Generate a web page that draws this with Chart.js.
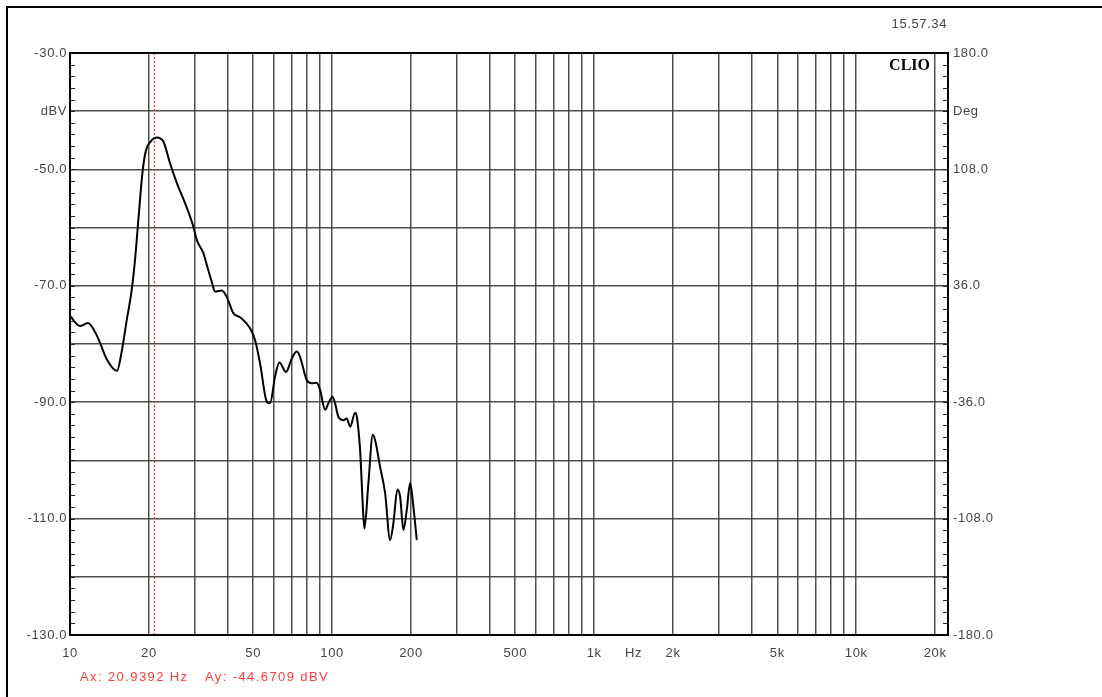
<!DOCTYPE html>
<html>
<head>
<meta charset="utf-8">
<title>CLIO FFT</title>
<script src="https://cdn.jsdelivr.net/npm/chart.js@4.4.1/dist/chart.umd.min.js"></script>
<style>
  html, body { margin: 0; padding: 0; background: #fff; }
  #chart { display: block; }
</style>
</head>
<body>
<canvas id="chart" width="1102" height="697"></canvas>
<script>
const freqHz = [10, 10.92, 11.71, 12.68, 13.84, 15.11, 15.79, 16.46, 17.2, 17.7, 18.23, 18.95, 19.5, 20.5, 20.94, 21.42, 22.71, 24.08, 25.55, 27.48, 29.55, 30.45, 32.28, 33.25, 34.74, 35.76, 37.93, 39.64, 42.02, 44.57, 48.64, 50.82, 53.11, 56.34, 58.0, 60.6, 62.93, 66.75, 70.18, 73.33, 75.48, 80.04, 83.64, 87.4, 90.0, 94.04, 96.8, 100.3, 102.7, 105.7, 110.4, 113.8, 117.2, 122.4, 124.3, 127.9, 131.7, 132.9, 137.6, 143.0, 145.9, 152.5, 159.4, 166.5, 171.4, 177.5, 181.8, 187.2, 192.8, 198.5, 204.3, 210.5];
const levelDbv = [-75.2, -76.9, -76.4, -78.6, -82.7, -84.6, -81.0, -75.9, -70.7, -65.6, -58.7, -50.1, -46.7, -45.0, -44.67, -44.5, -45.2, -48.95, -52.3, -55.8, -59.8, -62.1, -64.4, -66.4, -69.3, -71.0, -70.8, -71.9, -74.7, -75.4, -77.3, -79.3, -83.3, -89.9, -90.2, -85.6, -83.2, -84.8, -82.5, -81.3, -82.2, -86.2, -86.75, -86.65, -87.9, -91.3, -90.2, -89.05, -90.2, -92.5, -93.1, -92.8, -94.2, -91.8, -92.5, -98.2, -109.7, -111.7, -103.9, -95.6, -96.5, -101.1, -105.65, -113.7, -110.8, -105.0, -106.2, -111.96, -108.5, -103.9, -107.95, -113.7];

// cursor A
const cursorHz = 20.9392;
const cursorDbv = -44.6709;

// axis ticks
const freqTicks = [10, 20, 30, 40, 50, 60, 70, 80, 90, 100, 200, 300, 400, 500, 600, 700, 800, 900, 1000, 1414, 2000, 3000, 4000, 5000, 6000, 7000, 8000, 9000, 10000, 20000];
const freqLabels = ['10', '20', '', '', '50', '', '', '', '', '100', '200', '', '', '500', '', '', '', '', '1k', 'Hz', '2k', '', '', '5k', '', '', '', '', '10k', '20k'];
const hzTick = 1414;
const dbvLabels = { '-30': '-30.0', '-40': 'dBV', '-50': '-50.0', '-70': '-70.0', '-90': '-90.0', '-110': '-110.0', '-130': '-130.0' };
const degLabels = { '180': '180.0', '144': 'Deg', '108': '108.0', '36': '36.0', '-36': '-36.0', '-108': '-108.0', '-180': '-180.0' };
const timeStamp = '15.57.34';

const GRID = 'rgba(60,60,60,0.9)';
const TXT = '#454545';
const SPACING = '0.6px';
const font = { family: '"Liberation Sans", Arial, sans-serif', size: 13 };

const decor = {
  id: 'decor',
  beforeDraw(chart) {
    chart.ctx.letterSpacing = SPACING;
  },
  beforeDatasetsDraw(chart) {
    const { ctx, chartArea: a } = chart;
    const x = chart.scales.x.getPixelForValue(cursorHz);
    ctx.save();
    ctx.strokeStyle = '#ff3030';
    ctx.lineWidth = 1.3;
    ctx.setLineDash([2, 2]);
    ctx.beginPath();
    ctx.moveTo(Math.round(x) + 0.5, a.top);
    ctx.lineTo(Math.round(x) + 0.5, a.bottom);
    ctx.stroke();
    ctx.restore();
  },
  afterDraw(chart) {
    const { ctx, chartArea: a } = chart;
    const y = chart.scales.y, y2 = chart.scales.y2;
    ctx.save();
    // small ticks inside the frame
    ctx.strokeStyle = '#222';
    ctx.lineWidth = 1;
    ctx.beginPath();
    for (let v = -130; v <= -30; v += 2) {
      const py = Math.round(y.getPixelForValue(v)) + 0.5;
      ctx.moveTo(a.left, py); ctx.lineTo(a.left + 5, py);
    }
    for (let v = -180; v <= 180.01; v += 7.2) {
      const py = Math.round(y2.getPixelForValue(v)) + 0.5;
      ctx.moveTo(a.right - 5, py); ctx.lineTo(a.right, py);
    }
    ctx.stroke();
    // plot frame
    ctx.strokeStyle = '#000';
    ctx.lineWidth = 2;
    ctx.strokeRect(a.left, a.top, a.right - a.left, a.bottom - a.top);
    // window frame
    ctx.fillStyle = '#000';
    ctx.fillRect(6, 6, 2, chart.height - 6);
    ctx.fillRect(6, 6, chart.width - 6, 2);
    // texts
    ctx.letterSpacing = SPACING;
    ctx.font = '13px "Liberation Sans", Arial, sans-serif';
    ctx.fillStyle = TXT;
    ctx.textAlign = 'right';
    ctx.textBaseline = 'middle';
    ctx.fillText(timeStamp, a.right - 1, 24);
    ctx.letterSpacing = '0px';
    ctx.font = 'bold 16px "Liberation Serif", "Times New Roman", serif';
    ctx.fillStyle = '#000';
    ctx.fillText('CLIO', a.right - 18, 66);
    ctx.letterSpacing = '1.4px';
    ctx.font = '13px "Liberation Sans", Arial, sans-serif';
    ctx.fillStyle = '#ff3b3b';
    ctx.textAlign = 'left';
    ctx.fillText('Ax: ' + cursorHz.toFixed(4) + ' Hz', 80, 677);
    ctx.fillText('Ay: ' + cursorDbv.toFixed(4) + ' dBV', 205, 677);
    ctx.restore();
  }
};

new Chart(document.getElementById('chart'), {
  type: 'line',
  data: {
    datasets: [{
      data: freqHz.map((f, i) => ({ x: f, y: levelDbv[i] })),
      borderColor: '#000',
      borderWidth: 2,
      pointRadius: 0,
      fill: false,
      cubicInterpolationMode: 'monotone',
      yAxisID: 'y'
    }]
  },
  options: {
    responsive: false,
    animation: false,
    devicePixelRatio: 1,
    layout: { padding: { top: 53, left: 0, right: 0, bottom: 0 } },
    plugins: { legend: { display: false }, tooltip: { enabled: false } },
    scales: {
      x: {
        type: 'logarithmic',
        min: 10,
        max: 22400,
        afterBuildTicks: s => { s.ticks = freqTicks.map(v => ({ value: v })); },
        afterFit: s => { s.height = 62; },
        border: { display: false },
        grid: {
          color: c => (c.tick && c.tick.value === hzTick) ? 'rgba(0,0,0,0)' : GRID,
          lineWidth: 1.5,
          drawTicks: false
        },
        ticks: {
          autoSkip: false,
          maxRotation: 0,
          padding: 11,
          color: TXT,
          font: font,
          callback: (v, i) => freqLabels[i]
        }
      },
      y: {
        position: 'left',
        min: -130,
        max: -30,
        afterFit: s => { s.width = 70; },
        border: { display: false },
        grid: { color: GRID, lineWidth: 1.5, drawTicks: false },
        ticks: {
          stepSize: 10,
          padding: 3,
          color: TXT,
          font: font,
          callback: v => dbvLabels[String(Math.round(v))] || ''
        }
      },
      y2: {
        position: 'right',
        min: -180,
        max: 180,
        afterFit: s => { s.width = 154; },
        border: { display: false },
        grid: { drawOnChartArea: false, drawTicks: false },
        ticks: {
          stepSize: 36,
          padding: 5,
          color: TXT,
          font: font,
          callback: v => degLabels[String(Math.round(v))] || ''
        }
      }
    }
  },
  plugins: [decor]
});
</script>
</body>
</html>
